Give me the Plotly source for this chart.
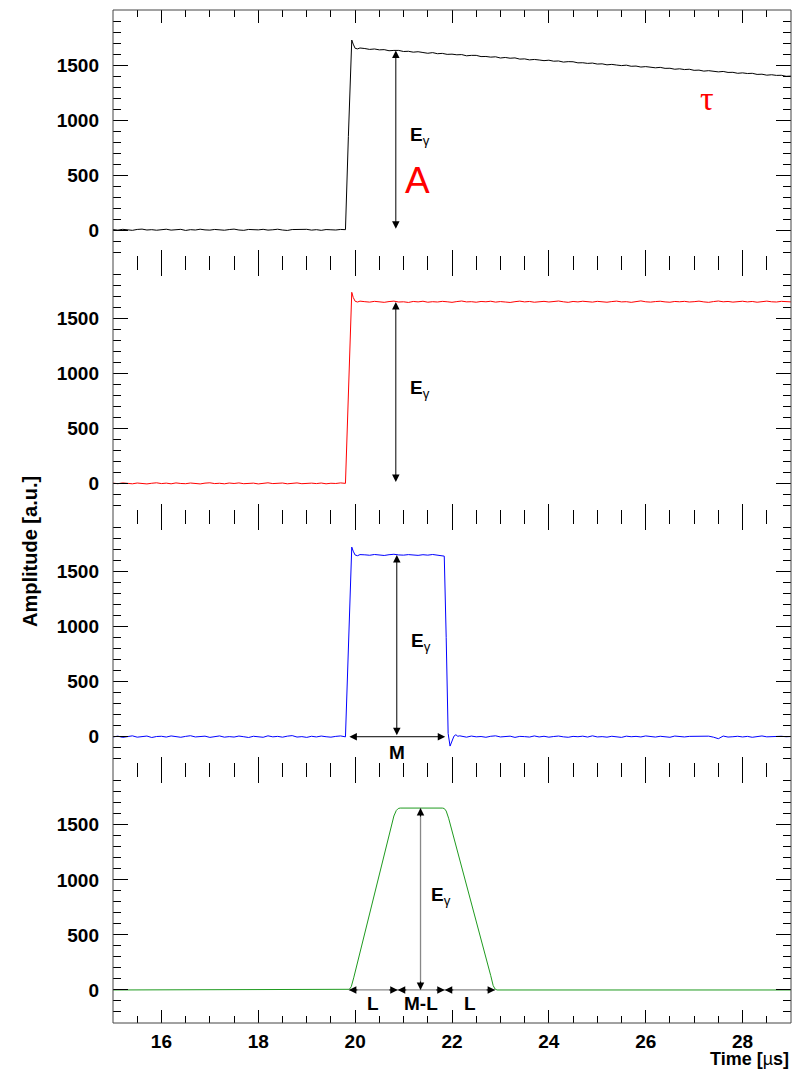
import numpy as np
import plotly.graph_objects as go
from plotly.subplots import make_subplots

# ---------------- data (time in us, amplitude in a.u.) ----------------
# panel 1: raw preamplifier pulse (black)
black_base = [6, 1, 8, 3, -1, 7, 10, 2, 5, 0, 4, 9, 1, 6, 8, -2, 5, 2, 9, 3,
              1, 7, 4, 0, 6, 10, 2, -1, 7, 5, 3, 8, 1, 4, 9, 2, -2, 6, 7, 3,
              8, 1, 5, -1, 6, 4, 2, 7, 5]
black_rise_t = [19.86, 19.93, 19.96, 20.0, 20.05, 20.1]
black_rise_v = [850, 1727, 1690, 1652, 1647, 1655]
black_tail = [1650, 1642, 1646, 1638, 1640, 1630, 1633, 1633, 1623, 1625,
              1617, 1621, 1614, 1607, 1613, 1603, 1606, 1597, 1599, 1593,
              1595, 1584, 1588, 1588, 1577, 1578, 1572, 1575, 1564, 1569,
              1562, 1565, 1554, 1556, 1547, 1551, 1546, 1540, 1544, 1535,
              1537, 1527, 1531, 1530, 1520, 1521, 1515, 1518, 1509, 1511,
              1502, 1506, 1500, 1495, 1499, 1489, 1491, 1482, 1486, 1481,
              1475, 1479, 1470, 1471, 1462, 1466, 1459, 1462, 1452, 1454,
              1445, 1449, 1444, 1438, 1442, 1433, 1434, 1425, 1429, 1423,
              1425, 1415, 1417, 1408, 1412, 1406, 1407, 1398, 1400]

# panel 2: pole-zero corrected pulse (red)
red_base = [3, -2, 5, 1, -3, 4, 0, -4, 2, 6, -1, 3, -3, 5, 0, -2, 4, 1, -4, 3,
            6, -1, 2, -3, 4, 0, 5, -2, 1, 3, -4, 2, 6, -1, 0, 4, -3, 2, 5, -2,
            1, 3, -1, 4, -3, 2, 0, 5, 1]
red_rise_t = [19.86, 19.93, 19.96, 20.0, 20.05, 20.1]
red_rise_v = [900, 1736, 1690, 1655, 1648, 1656]
red_tail = [1651, 1647, 1654, 1649, 1645, 1652, 1656, 1648, 1650, 1644,
            1653, 1649, 1655, 1646, 1651, 1648, 1654, 1650, 1645, 1652,
            1657, 1649, 1651, 1646, 1653, 1650, 1655, 1647, 1652, 1648,
            1644, 1651, 1656, 1649, 1653, 1646, 1650, 1654, 1648, 1652,
            1657, 1650, 1645, 1653, 1649, 1655, 1651, 1647, 1654, 1650,
            1646, 1652, 1656, 1649, 1651, 1645, 1653, 1658, 1650, 1647,
            1652, 1655, 1649, 1646, 1653, 1650, 1654, 1648, 1651, 1656,
            1649, 1645, 1652, 1657, 1650, 1653, 1647, 1651, 1655, 1649,
            1653, 1646, 1652, 1656, 1650, 1648, 1654, 1651, 1649]

# panel 3: rectangular (moving-window deconvolution) pulse (blue)
blue_base = [-2, 5, -6, 3, 8, -4, 1, 6, -7, 2, 4, -3, 7, -1, -5, 3, 9, -2, 0, 5,
             -6, 2, 7, -4, 1, -3, 6, 0, -7, 4, 2, -5, 8, -1, 3, -4, 5, 10, -3, 1,
             -6, 4, -2, 6, 0, -4, 3, 7, -1]
blue_rise_t = [19.86, 19.93, 19.96, 20.0, 20.05, 20.1]
blue_rise_v = [880, 1722, 1685, 1650, 1644, 1654]
blue_top = [1652, 1648, 1655, 1650, 1646, 1653, 1657, 1651, 1649, 1654,
            1650, 1647, 1653, 1649, 1655, 1651, 1648]
blue_fall_t = [21.84, 21.88, 21.92, 21.96, 22.0, 22.04, 22.08, 22.12, 22.16]
blue_fall_v = [1640, 900, 30, -85, -45, 5, 18, 4, 8]
blue_tail = [3, -4, 6, -1, 2, -5, 4, 8, -2, 0,
             5, -6, 3, 1, -3, 7, -2, 4, -4, 2,
             6, -1, -5, 3, 0, 5, -3, 8, -2, 1,
             -4, 4, 2, -6, 5, 0, 3, -2, 7, -1,
             -3, 4, 1, -5, 6, 2, -2, 3, 3, 4,
             -1, 5, -4, -18, 6, -3, 0, 4, -2, 3,
             -5, 2, 7, -1, 1, -3, 4, 0, 2]

# panel 4: trapezoidal filter output (green)
green_t = [15.0, 19.84, 19.88, 19.92, 19.97, 20.80, 20.85, 20.89, 20.93,
           21.80, 21.84, 21.88, 21.93, 22.80, 22.85, 22.89, 22.93, 29.0]
green_v = [0, 0, 6, 30, 110, 1580, 1630, 1648, 1652,
           1652, 1648, 1625, 1560, 130, 40, 8, 0, 0]

# annotation quantities
egamma_x = [20.84, 20.84, 20.86, 21.35]
egamma_top = [1632, 1648, 1650, 1652]
m_window = [19.85, 21.86]
l_edges = [19.87, 20.88, 21.85, 22.89]
x_tickvals = [16, 18, 20, 22, 24, 26, 28]
y_tickvals = [0, 500, 1000, 1500]


def grid(start, n, step=0.1):
    return [round(start + step * i, 3) for i in range(n)]


t_black = grid(15.0, len(black_base)) + black_rise_t + grid(20.2, len(black_tail))
v_black = black_base + black_rise_v + black_tail
t_red = grid(15.0, len(red_base)) + red_rise_t + grid(20.2, len(red_tail))
v_red = red_base + red_rise_v + red_tail
t_blue = (grid(15.0, len(blue_base)) + blue_rise_t + grid(20.2, len(blue_top))
          + blue_fall_t + grid(22.2, len(blue_tail)))
v_blue = blue_base + blue_rise_v + blue_top + blue_fall_v + blue_tail

fig = make_subplots(rows=4, cols=1, shared_xaxes=True, vertical_spacing=0)

series = [(t_black, v_black, '#000000'), (t_red, v_red, '#ff0000'),
          (t_blue, v_blue, '#0000ff'), (green_t, green_v, '#1f9a1f')]
for i, (t, v, c) in enumerate(series):
    fig.add_trace(go.Scatter(x=t, y=v, mode='lines', line=dict(color=c, width=1),
                             showlegend=False, hoverinfo='skip'), row=i + 1, col=1)

FONT = 'Liberation Sans, Arial, Helvetica, sans-serif'
tickfont = dict(family=FONT, size=19, color='black', weight='bold')

for r in range(1, 5):
    fig.update_xaxes(range=[15, 29], tickvals=x_tickvals, ticks='inside', ticklen=13,
                     tickwidth=1, tickcolor='black', mirror='ticks', showline=False,
                     showgrid=False, zeroline=False, tickfont=tickfont,
                     ticklabelstandoff=5,
                     minor=dict(dtick=0.5, tick0=15, ticks='inside', ticklen=7,
                                tickcolor='black', tickwidth=1, showgrid=False),
                     showticklabels=(r == 4), row=r, col=1)
    fig.update_yaxes(range=[-300, 2000], tickvals=y_tickvals, ticks='inside', ticklen=15,
                     tickwidth=1, tickcolor='black', mirror='ticks', showline=False,
                     showgrid=False, zeroline=False, tickfont=tickfont,
                     ticklabelstandoff=13,
                     minor=dict(dtick=100, tick0=0, ticks='inside', ticklen=8,
                                tickcolor='black', tickwidth=1, showgrid=False),
                     row=r, col=1)

annotations = []


def refs(r):
    s = '' if r == 1 else str(r)
    return 'x' + s, 'y' + s


LABEL = dict(family=FONT, size=19, color='black')

# double-headed black arrows for panels 1-3
for r in range(1, 4):
    xr, yr = refs(r)
    annotations.append(dict(xref=xr, yref=yr, axref=xr, ayref=yr,
                            x=egamma_x[r - 1], y=egamma_top[r - 1],
                            ax=egamma_x[r - 1], ay=0, text='', showarrow=True,
                            arrowhead=2, startarrowhead=2, arrowside='end+start',
                            arrowsize=1.5, startarrowsize=1.5, arrowwidth=1,
                            arrowcolor='black'))
    annotations.append(dict(xref=xr, yref=yr, x=egamma_x[r - 1] + 0.25, y=860,
                            xanchor='left', yanchor='middle', showarrow=False,
                            text='<b>E</b><sub>γ</sub>', font=LABEL))

# M window arrow (panel 3)
annotations.append(dict(xref='x3', yref='y3', axref='x3', ayref='y3',
                        x=m_window[1], y=0, ax=m_window[0], ay=0, text='',
                        showarrow=True, arrowhead=2, startarrowhead=2,
                        arrowside='end+start', arrowsize=1.5, startarrowsize=1.5,
                        arrowwidth=1, arrowcolor='black'))
annotations.append(dict(xref='x3', yref='y3', x=sum(m_window) / 2, y=-140,
                        showarrow=False, text='<b>M</b>', font=LABEL))

# panel 4: gray lines with black heads
shapes = []
shapes.append(dict(type='line', xref='x4', yref='y4', x0=egamma_x[3], x1=egamma_x[3],
                   y0=0, y1=egamma_top[3], line=dict(color='#888888', width=1.3)))
shapes.append(dict(type='line', xref='x4', yref='y4', x0=l_edges[0], x1=l_edges[3],
                   y0=0, y1=0, line=dict(color='#888888', width=1.3)))


def head(x, y, ax, ay):
    return dict(xref='x4', yref='y4', x=x, y=y, ax=ax, ay=ay, text='',
                showarrow=True, arrowhead=2, arrowsize=1.5, arrowwidth=1,
                arrowcolor='black')


annotations.append(head(egamma_x[3], egamma_top[3], 0, 10))
annotations.append(head(egamma_x[3], 0, 0, -10))
for i in range(3):
    annotations.append(head(l_edges[i], 0, 10, 0))
    annotations.append(head(l_edges[i + 1], 0, -10, 0))
annotations.append(dict(xref='x4', yref='y4', x=egamma_x[3] + 0.18, y=850,
                        xanchor='left', yanchor='middle', showarrow=False,
                        text='<b>E</b><sub>γ</sub>', font=LABEL))
for i, lab in enumerate(['L', 'M-L', 'L']):
    annotations.append(dict(xref='x4', yref='y4', x=(l_edges[i] + l_edges[i + 1]) / 2,
                            y=-120, showarrow=False, text='<b>%s</b>' % lab,
                            font=LABEL))

# red labels in panel 1
annotations.append(dict(xref='x', yref='y', x=21.28, y=450, showarrow=False, text='A',
                        font=dict(family=FONT, size=37, color='#ff0000')))
annotations.append(dict(xref='x', yref='y', x=27.27, y=1200, showarrow=False, text='τ',
                        font=dict(family='Liberation Serif, DejaVu Serif, serif',
                                  size=34, color='#ff0000')))

# axis titles
annotations.append(dict(xref='paper', yref='paper', x=-0.1224, y=0.465, textangle=-90,
                        showarrow=False, text='<b>Amplitude [a.u.]</b>',
                        xanchor='center', yanchor='middle',
                        font=dict(family=FONT, size=20, color='black')))
annotations.append(dict(xref='paper', yref='paper', x=1.0, y=-0.036,
                        xanchor='right', yanchor='middle', showarrow=False,
                        text='<b>Time [</b>µ<b>s]</b>',
                        font=dict(family=FONT, size=18, color='black')))

# outer frame
shapes.append(dict(type='rect', xref='paper', yref='paper', x0=0, x1=1, y0=0, y1=1,
                   line=dict(color='#444444', width=1)))

# page body has an 8px margin, so the figure is sized to fit the 800x1069 window
fig.update_layout(width=792, height=1061, margin=dict(l=105, r=9, t=2, b=46),
                  plot_bgcolor='white', paper_bgcolor='white',
                  annotations=annotations, shapes=shapes, showlegend=False)

fig.write_html('out.html')
